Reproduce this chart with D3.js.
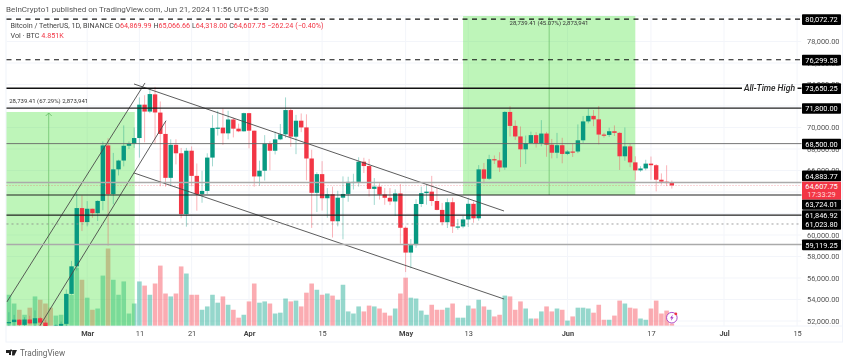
<!DOCTYPE html>
<html>
<head>
<meta charset="utf-8">
<script src="https://cdn.jsdelivr.net/npm/d3@7"></script>
<style>
  html, body { margin: 0; padding: 0; background: #fff; }
  svg { display: block; filter: blur(0.3px); font-family: Roboto, "Liberation Sans", sans-serif; }
</style>
</head>
<body>
<div id="chart"></div>
<script>
// daily candles, Feb 15 -> Jun 21 2024
const opens = [51800,51900,52124,51642,52137,51774,52258,51849,51300,50731,51565,51733,54522,57085,62504,
  61198,62440,62029,63168,68330,63801,66106,66925,68300,68498,69020,72123,71481,73079,71387,69400,65316,68390,67600,61937,67840,65500,63800,64100,67200,69958,69987,69455,70744,69892,69645,
  71333,69702,65446,65980,68508,67837,68896,69360,71620,69146,70631,70006,67116,63924,65661,63419,63793,61277,63470,63818,64940,64941,66819,66414,64289,64498,63770,63461,63118,63866,
  60672,58364,59060,62882,63892,64031,63161,62334,61187,63049,60793,60793,61448,62901,61552,66104,65231,67051,66940,66278,71446,70148,69166,67969,68549,69290,68507,69436,68398,67652,68352,
  67540,67766,67765,68809,70567,71082,70757,69342,69305,69649,69500,67321,68243,66756,66011,66191,66639,66490,65140,64960,64869.99];
const highs = [52816,52572,52162,52354,52488,52985,52382,52087,51548,51700,51950,54938,57588,64000,63676,
  63155,62450,63230,68700,69000,67637,67000,70194,68700,69999,72800,73000,73650,73777,72420,70600,68900,68900,68100,68100,68240,66650,65970,67600,71150,71561,71768,71552,70900,70357,71377,
  71366,69704,66914,69291,68725,69629,70326,72797,71758,71172,71305,71227,67931,65840,66867,64365,64499,64117,65450,65419,65695,67232,67183,67075,65297,64820,64369,64370,64250,64734,
  60780,59625,63333,64500,64646,65500,64390,62984,63404,63469,61490,61800,63450,63118,66500,66700,67459,67400,67700,71515,71979,70666,70096,69250,69610,69562,70687,69591,68935,69500,69044,
  67900,68460,70288,71063,71758,71625,71997,69500,69980,70195,69558,69999,68449,67320,66402,66998,67298,66600,65730,66483,65066.66];
const lows = [51314,51566,50625,51200,51677,50760,50625,50880,50500,50900,51280,50931,54450,56690,60364,
  60800,61600,61300,62300,59005,62848,65536,66384,68000,68100,67194,68620,71333,68555,64533,64500,64533,66566,61555,60775,64529,62260,63000,63800,66385,69250,68379,68900,69077,69564,69623,
  68062,64493,64559,65064,66011,67491,68824,69043,68210,67518,69567,65086,60660,62134,62274,61600,59768,60803,59600,63090,64227,64500,65765,63589,62794,63297,62809,62781,61765,59191,
  56552,56911,58811,62600,62822,62700,62300,60888,60648,60187,60492,60630,60749,61142,61330,64800,65119,66600,65857,66060,69162,68845,66312,66600,68500,68128,68250,67277,67124,67138,66670,
  67428,67257,67612,68567,70383,70119,68420,69056,69125,69207,66051,66902,66304,65078,65880,66018,65130,64060,64693,64547,64318];
const closes = [51900,52124,51642,52137,51774,52258,51849,51300,50731,51565,51733,54522,57085,62504,61198,
  62440,62029,63168,68330,63801,66106,66925,68300,68498,69020,72123,71481,73108,71397,69400,65316,68390,67600,61937,67840,65500,63800,64100,67200,69958,69987,69455,70744,69892,69645,71333,
  69702,65446,65980,68508,67837,68896,69360,71620,69146,70631,70006,67116,63924,65661,63419,63793,61277,63470,63818,64940,64941,66819,66414,64289,64498,63770,63461,63118,63866,60672,
  58364,59060,62882,63892,64031,63161,62334,61187,63049,60792,60793,61448,62901,61552,66104,65231,67051,66940,66278,71446,70148,69166,67969,68549,69290,68507,69436,68398,67652,68352,67540,
  67766,67765,68809,70566,71082,70757,69342,69305,69649,69500,67321,68243,66756,66011,66191,66639,66490,65140,64960,64828,64607.75];
// volume in thousands of BTC
const volumes = [74,53,38,26,43,70,62,53,43,24,26,74,74,139,110,
  67,38,41,120,185,110,74,106,29,53,106,96,74,101,144,77,70,77,142,125,74,74,38,46,74,55,70,50,38,19,26,
  58,101,55,58,53,29,31,65,58,60,46,79,101,86,74,77,72,62,98,34,29,46,34,48,46,41,31,24,41,77,
  115,67,65,36,26,50,38,38,43,53,19,19,48,41,62,46,38,22,26,72,70,38,58,41,17,17,34,46,34,41,38,
  12,22,43,43,41,31,50,14,14,24,60,53,43,41,17,14,41,60,29,36,4.851];

const gridPrices = [78000,76000,74000,72000,70000,68000,66000,64000,62000,60000,58000,56000,54000,52000];
// 64,000 and 62,000 sit fully behind the price labels, so no text for them
const priceTicks = [78000,76000,74000,72000,70000,68000,66000,60000,58000,56000,54000,52000];
const monthTicks = ["2024-03-01","2024-04-01","2024-05-01","2024-06-01","2024-07-01"];
const dayTicks = ["2024-03-11","2024-03-21","2024-04-15","2024-05-13","2024-06-17","2024-07-15"];

// horizontal levels drawn on the chart
const levelPrices = [80072.72,76299.58,73650.25,71800,68500,64883.77,63724.01,61846.92,61023.80,59119.25];
const levelLabels = ["80,072.72","76,299.58","73,650.25","71,800.00","68,500.00","64,883.77","63,724.01","61,846.92","61,023.80","59,119.25"];
const levelKinds = ["dash","dash","heavy","solid","thin","grey","solid","solid","dots","grey"];

// trend lines: [day number, price] at both ends
const trendStarts = [[-0.4,53767],[5.96,51572],[23.97,74047],[23.97,65767]];
const trendEnds = [[26.07,74140],[30.1,70633],[94.85,62233],[94.85,54047]];

// long position boxes: [first day, last day, top price, bottom price]
// the left one starts before the visible range
const boxes = [[-8.85,24.1,71442,51572],[87,120,80370,63721]];

const width = 850, height = 363;
const plotLeft = 6.5, plotRight = 801.5, plotTop = 16, plotBottom = 326, frameRight = 843, frameBottom = 342;

const startDate = new Date(Date.UTC(2024,1,15));
const dates = opens.map((d,i) => d3.utcDay.offset(startDate, i));

const x = d3.scaleUtc()
  .domain([startDate, new Date(Date.UTC(2024,6,15))])
  .range([8.9, 8.9 + 151*5.22]);
const xDay = d => x(startDate) + d*5.22;

const y = d3.scaleLinear().domain([52000,80072.72]).range([321,19.2]);
const yVol = d3.scaleLinear().domain([0,240]).range([plotBottom-0.4, plotBottom-0.4-100]);

const upColor = "#089981", downColor = "#f23645";
const colorOf = i => closes[i] >= opens[i] ? upColor : downColor;

const svg = d3.select("#chart").append("svg")
  .attr("width", width)
  .attr("height", height);

svg.append("defs").append("clipPath").attr("id","pane")
  .append("rect")
  .attr("x",plotLeft).attr("y",plotTop)
  .attr("width",plotRight-plotLeft).attr("height",plotBottom-plotTop);

// header
svg.append("text").attr("x",6).attr("y",12)
  .attr("font-size",8).attr("fill","#555")
  .text("BeInCrypto1 published on TradingView.com, Jun 21, 2024 11:56 UTC+5:30");

// frame + grid
svg.append("rect")
  .attr("x",plotLeft-0.5).attr("y",plotTop)
  .attr("width",frameRight-plotLeft).attr("height",frameBottom-plotTop)
  .attr("fill","#fff").attr("stroke","#f0f3fa");
svg.append("line").attr("x1",plotLeft).attr("x2",frameRight).attr("y1",plotBottom).attr("y2",plotBottom).attr("stroke","#f0f3fa");

const gridDates = monthTicks.concat(dayTicks).map(d => new Date(d));
const pane = svg.append("g").attr("clip-path","url(#pane)");
pane.selectAll(".vgrid").data(gridDates).enter().append("line")
  .attr("x1",d => x(d)).attr("x2",d => x(d))
  .attr("y1",plotTop).attr("y2",plotBottom)
  .attr("stroke","#f3f5fa");
pane.selectAll(".hgrid").data(gridPrices).enter().append("line")
  .attr("x1",plotLeft).attr("x2",plotRight)
  .attr("y1",d => y(d)).attr("y2",d => y(d))
  .attr("stroke","#f3f5fa");

// volume
pane.selectAll(".vol").data(volumes).enter().append("rect")
  .attr("x",(d,i) => x(dates[i])-2.3)
  .attr("width",4.6)
  .attr("y",d => yVol(d))
  .attr("height",d => yVol(0)-yVol(d))
  .attr("fill",(d,i) => closes[i] >= opens[i] ? "#22ab94" : "#f7525f")
  .attr("opacity",0.48);

// green boxes
pane.selectAll(".box").data(boxes).enter().append("rect")
  .attr("x",d => xDay(d[0]))
  .attr("width",d => xDay(d[1])-xDay(d[0]))
  .attr("y",d => y(d[2]))
  .attr("height",d => y(d[3])-y(d[2]))
  .attr("fill","#4ce43c")
  .attr("opacity",0.36);
pane.selectAll(".boxline").data(boxes).enter().append("line")
  .attr("x1",d => (xDay(d[0])+xDay(d[1]))/2)
  .attr("x2",d => (xDay(d[0])+xDay(d[1]))/2)
  .attr("y1",d => y(d[2])+1)
  .attr("y2",d => y(d[3]))
  .attr("stroke","#5cb85c").attr("stroke-width",0.8).attr("opacity",0.8);
// arrow head on the left box
const arrowX = (xDay(boxes[0][0])+xDay(boxes[0][1]))/2, arrowY = y(boxes[0][2])+1;
pane.append("path")
  .attr("d",`M${arrowX-3},${arrowY+3}L${arrowX},${arrowY}L${arrowX+3},${arrowY+3}`)
  .attr("fill","none").attr("stroke","#5cb85c").attr("stroke-width",0.8);

// candles
pane.selectAll(".wick").data(dates).enter().append("line")
  .attr("x1",d => x(d)).attr("x2",d => x(d))
  .attr("y1",(d,i) => y(highs[i]))
  .attr("y2",(d,i) => y(lows[i]))
  .attr("stroke",(d,i) => colorOf(i))
  .attr("stroke-width",0.9)
  .attr("opacity",0.42);
pane.selectAll(".body").data(dates).enter().append("rect")
  .attr("x",d => x(d)-2.2)
  .attr("width",4.4)
  .attr("y",(d,i) => y(Math.max(opens[i],closes[i])))
  .attr("height",(d,i) => Math.max(1.2, Math.abs(y(opens[i])-y(closes[i]))))
  .attr("fill",(d,i) => colorOf(i));

// trend lines
pane.selectAll(".trend").data(trendStarts).enter().append("line")
  .attr("x1",d => xDay(d[0])).attr("y1",d => y(d[1]))
  .attr("x2",(d,i) => xDay(trendEnds[i][0])).attr("y2",(d,i) => y(trendEnds[i][1]))
  .attr("stroke","#4a4a4a").attr("stroke-width",0.9);

// horizontal levels
const levelStyle = {
  dash: {stroke:"#111", w:1.2, dash:"5,4.5"},
  heavy: {stroke:"#111", w:1.5, dash:null},
  solid: {stroke:"#222", w:1.15, dash:null},
  thin: {stroke:"#666", w:0.9, dash:null},
  grey: {stroke:"#aaa", w:1.4, dash:null},
  dots: {stroke:"#888", w:0.8, dash:"2,3"}
};
svg.selectAll(".level").data(levelPrices).enter().append("line")
  .attr("x1",plotLeft).attr("x2",plotRight)
  .attr("y1",d => y(d)).attr("y2",d => y(d))
  .attr("stroke",(d,i) => levelStyle[levelKinds[i]].stroke)
  .attr("stroke-width",(d,i) => levelStyle[levelKinds[i]].w)
  .attr("stroke-dasharray",(d,i) => levelStyle[levelKinds[i]].dash);

// last price line
svg.append("line")
  .attr("x1",plotLeft).attr("x2",plotRight)
  .attr("y1",y(closes[closes.length-1])).attr("y2",y(closes[closes.length-1]))
  .attr("stroke","#f23645").attr("stroke-width",0.7).attr("stroke-dasharray","1,2").attr("opacity",0.6);

// all time high note
svg.append("rect").attr("x",742).attr("y",y(73650.25)-3).attr("width",55.5).attr("height",6).attr("fill","#fff");
svg.append("text").attr("x",769.5).attr("y",y(73650.25)+3)
  .attr("text-anchor","middle").attr("font-size",8.6).attr("font-style","italic").attr("font-weight",500).attr("fill","#222")
  .text("All-Time High");

// box notes
svg.append("text").attr("x",48.7).attr("y",103).attr("text-anchor","middle").attr("font-size",6).attr("fill","#333")
  .text("28,739.41 (67.29%) 2,873,941");
svg.append("text").attr("x",549).attr("y",24.5).attr("text-anchor","middle").attr("font-size",6).attr("fill","#333")
  .text("28,739.41 (45.07%) 2,873,941");

// legend
const legendTop = svg.append("text").attr("x",10.5).attr("y",28).attr("font-size",7.2).attr("fill","#444");
legendTop.append("tspan").text("Bitcoin / TetherUS, 1D, BINANCE  O");
legendTop.append("tspan").attr("fill",downColor).text("64,869.99 ");
legendTop.append("tspan").text("H");
legendTop.append("tspan").attr("fill",downColor).text("65,066.66 ");
legendTop.append("tspan").text("L");
legendTop.append("tspan").attr("fill",downColor).text("64,318.00 ");
legendTop.append("tspan").text("C");
legendTop.append("tspan").attr("fill",downColor).text("64,607.75 −262.24 (−0.40%)");
const legendVol = svg.append("text").attr("x",10.5).attr("y",38).attr("font-size",7.2).attr("fill","#444");
legendVol.append("tspan").text("Vol · BTC  ");
legendVol.append("tspan").attr("fill",downColor).text("4.851K");

// price axis
const yAxis = d3.axisRight(y).tickValues(priceTicks).tickSize(0).tickPadding(0).tickFormat(d3.format(",.2f"));
const yG = svg.append("g").attr("transform",`translate(807,0)`).call(yAxis);
yG.select(".domain").remove();
yG.selectAll("text").attr("font-size",7.4).attr("fill","#555").attr("font-family","Roboto, 'Liberation Sans', sans-serif");

// time axis
const xAxis = d3.axisBottom(x).tickValues(gridDates).tickSize(0).tickPadding(5)
  .tickFormat(d => d.getUTCDate() === 1 ? d3.utcFormat("%b")(d) : d3.utcFormat("%-d")(d));
const xG = svg.append("g").attr("transform",`translate(0,${plotBottom})`).call(xAxis);
xG.select(".domain").remove();
xG.selectAll("text")
  .attr("font-size",7.4).attr("fill","#444").attr("font-family","Roboto, 'Liberation Sans', sans-serif")
  .attr("font-weight",d => d.getUTCDate() === 1 ? 700 : 400);

// price labels; the crowded ones are pushed apart like the original
const labelNudge = {"64,883.77":-7, "63,724.01":9};
const labelG = svg.selectAll(".plabel").data(levelPrices).enter().append("g")
  .attr("transform",(d,i) => `translate(802,${y(d)+(labelNudge[levelLabels[i]]||0)+0.4})`);
labelG.append("rect").attr("x",0).attr("y",-5.3).attr("width",39).attr("height",10.6).attr("rx",0.8).attr("fill","#000");
labelG.append("text").attr("x",19.5).attr("y",2.7).attr("text-anchor","middle")
  .attr("font-size",7.4).attr("fill","#fff").text((d,i) => levelLabels[i]);

// current price label with countdown
const nowG = svg.append("g").attr("transform",`translate(802,${y(64607.75)-3.8})`);
nowG.append("rect").attr("width",39).attr("height",18).attr("fill",downColor);
nowG.append("text").attr("x",19.5).attr("y",7.6).attr("text-anchor","middle").attr("font-size",7.4).attr("fill","#fff").text("64,607.75");
nowG.append("text").attr("x",19.5).attr("y",15.6).attr("text-anchor","middle").attr("font-size",7.4).attr("fill","#ffd9dc").text("17:33:29");

// bolt icon on the last bar
const iconX = x(dates[dates.length-1]), iconY = 317.7;
svg.append("circle").attr("cx",iconX).attr("cy",iconY).attr("r",5.3).attr("fill","#fff").attr("stroke","#a63ac4").attr("stroke-width",0.9);
svg.append("path").attr("transform",`translate(${iconX},${iconY})`)
  .attr("d","M1,-3.2L-1.8,0.5H-0.2L-1,3.2L1.8,-0.5H0.2Z").attr("fill","#a63ac4");
svg.append("circle").attr("cx",iconX+4).attr("cy",iconY-3.8).attr("r",1.4).attr("fill","#f23645");

// footer logo
svg.append("path").attr("transform","translate(6,350)")
  .attr("d","M0,0H5V5H3V3H0ZM6.2,0H11L8.4,5.6H6ZM5,1.4a1,1 0 1 1 0.01,0Z").attr("fill","#222");
svg.append("text").attr("x",20).attr("y",356).attr("font-size",8.2).attr("fill","#666").text("TradingView");
</script>
</body>
</html>
